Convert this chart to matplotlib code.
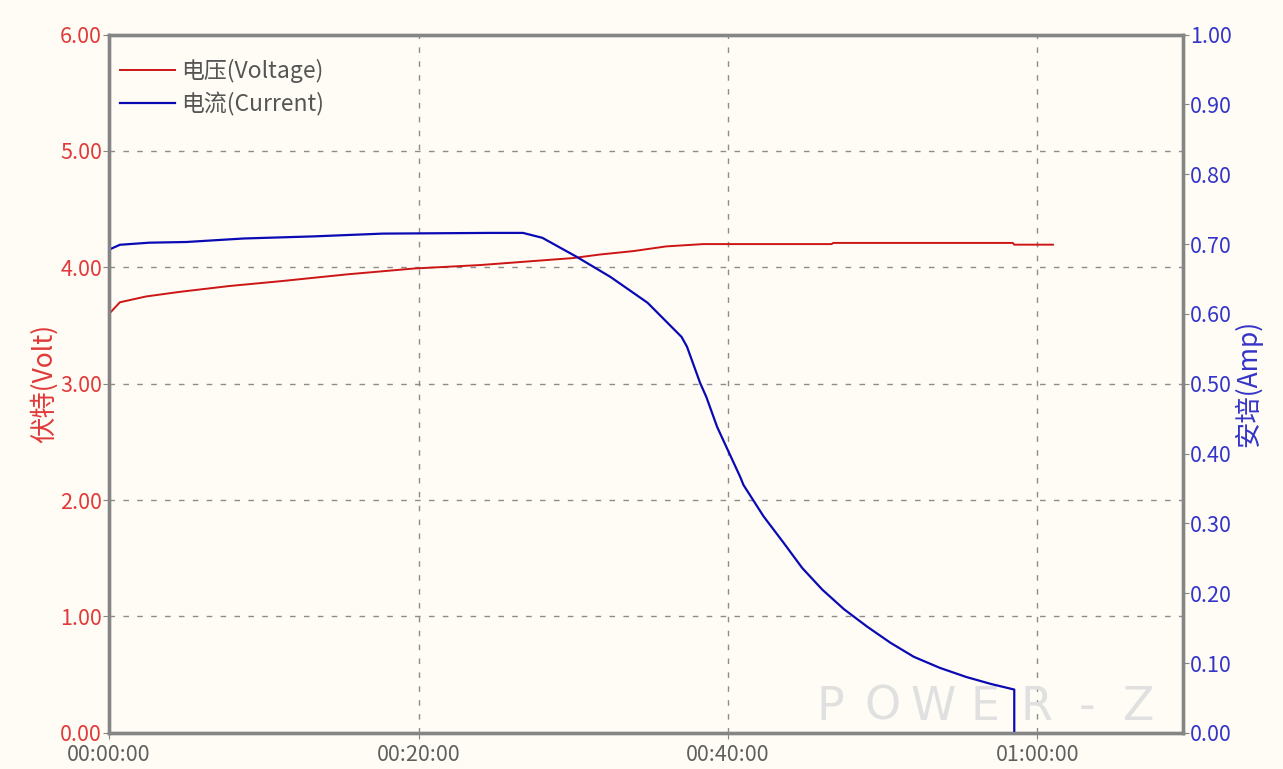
#!/usr/bin/env python3
"""POWER-Z 充电曲线：电压 / 电流 随时间变化。"""
import matplotlib
matplotlib.use("Agg")
import matplotlib.pyplot as plt
from matplotlib.ticker import FuncFormatter, MultipleLocator

plt.rcParams["font.family"] = ["Noto Sans CJK SC", "DejaVu Sans"]

# 时间单位：分钟
t_voltage = [0.0, 0.7, 2.4, 4.6, 7.8, 11.0, 15.4, 19.7, 24.0, 30.0, 31.7,
             33.9, 36.0, 38.4, 46.7, 46.8, 58.4, 58.5, 61.0]
voltage = [3.60, 3.70, 3.75, 3.79, 3.84, 3.88, 3.94, 3.99, 4.02, 4.08, 4.11,
           4.14, 4.18, 4.20, 4.20, 4.21, 4.21, 4.195, 4.195]

t_current = [0.0, 0.0, 0.7, 2.6, 5.0, 8.7, 13.2, 17.7, 24.6, 26.75, 28.0,
             30.2, 32.4, 34.8, 37.0, 37.35, 38.2, 38.6, 39.3, 40.8, 41.0,
             42.3, 43.6, 44.8, 46.1, 47.5, 49.0, 50.5, 52.0, 53.7, 55.4,
             57.0, 58.5, 58.5]
current = [0.0, 0.692, 0.699, 0.702, 0.703, 0.708, 0.711, 0.715, 0.716, 0.716,
           0.709, 0.682, 0.653, 0.616, 0.567, 0.553, 0.501, 0.481, 0.438,
           0.366, 0.355, 0.310, 0.272, 0.236, 0.205, 0.177, 0.152, 0.129,
           0.109, 0.093, 0.080, 0.070, 0.062, 0.0]

BG = "#fefcf4"
SPINE = "#858585"
RED = "#e03a3a"
BLUE = "#3434c8"


def hms(x, _pos):
    secs = int(round(x * 60))
    return f"{secs // 3600:02d}:{secs % 3600 // 60:02d}:{secs % 60:02d}"


fig = plt.figure(figsize=(12.83, 7.69), dpi=100, facecolor=BG)
ax = fig.add_axes([0.085, 0.047, 0.837, 0.908], facecolor=BG)
ax2 = ax.twinx()
ax2.patch.set_visible(False)

ln_v, = ax.plot(t_voltage, voltage, color="#cc1515", lw=1.4, label="电压(Voltage)")
ln_i, = ax2.plot(t_current, current, color="#0a0ab4", lw=1.6, label="电流(Current)")

ax.set_xlim(0, 69.4)
ax.set_ylim(0, 6)
ax2.set_ylim(0, 1)
ax.xaxis.set_major_locator(MultipleLocator(20))
ax.xaxis.set_major_formatter(FuncFormatter(hms))
ax.yaxis.set_major_locator(MultipleLocator(1))
ax.yaxis.set_major_formatter(FuncFormatter(lambda v, p: f"{v:.2f}"))
ax2.yaxis.set_major_locator(MultipleLocator(0.1))
ax2.yaxis.set_major_formatter(FuncFormatter(lambda v, p: f"{v:.2f}"))

ax.grid(True, color="#8c8c8c", ls=(0, (4, 6)), lw=1.0)

for a in (ax, ax2):
    for s in a.spines.values():
        s.set_color(SPINE)
        s.set_linewidth(2.4)
ax.tick_params(axis="y", colors=SPINE, labelcolor=RED, labelsize=15.5, length=4, pad=1)
ax.tick_params(axis="x", colors=SPINE, labelcolor="#606060", labelsize=15.5, length=4, pad=4)
ax2.tick_params(axis="y", colors=SPINE, labelcolor=BLUE, labelsize=15.5, length=4, pad=1)

ax.set_ylabel("伏特(Volt)", color=RED, fontsize=19, labelpad=2)
ax2.set_ylabel("安培(Amp)", color=BLUE, fontsize=19, labelpad=2)

leg = ax2.legend(handles=[ln_v, ln_i], loc="upper left", bbox_to_anchor=(-0.009, 0.995),
                 frameon=False, fontsize=16.5, handlelength=2.4, handletextpad=0.25,
                 labelspacing=0.4)
for txt in leg.get_texts():
    txt.set_color("#555555")

# 水印
for i, ch in enumerate("POWER-Z"):
    ax2.text(0.672 + i * 0.0478, 0.037, ch, transform=ax2.transAxes, fontsize=33,
             color="#e0e0e0", family="DejaVu Sans",
             ha="center", va="center", zorder=0)

fig.savefig("out.png", dpi=100, facecolor=BG)
